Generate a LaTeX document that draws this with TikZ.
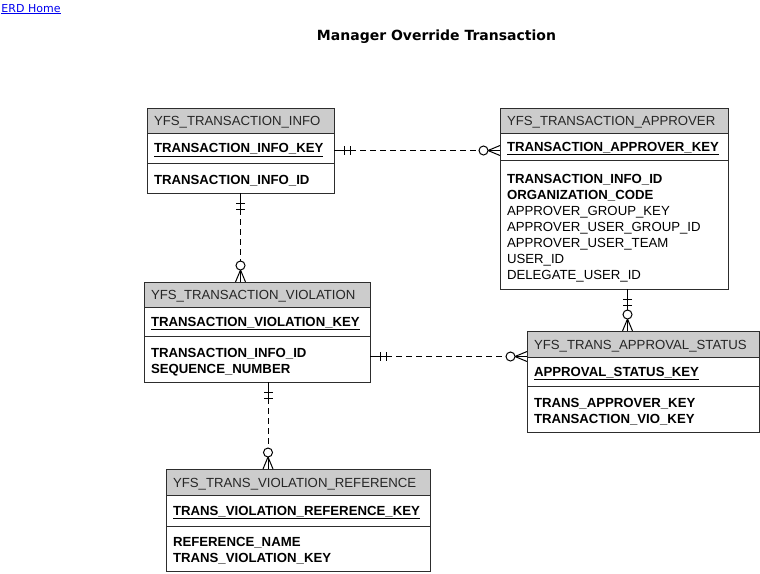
\documentclass[tikz,border=0pt]{standalone}
\usepackage{fontspec}
\setmainfont{Liberation Sans}
\newfontfamily\pagefont{DejaVu Sans}
\usetikzlibrary{positioning,calc}

\definecolor{hdrgray}{RGB}{204,204,204}
\definecolor{boxline}{RGB}{45,45,45}
\definecolor{linkblue}{RGB}{0,0,238}

\newcommand\entfont{\fontsize{13.2}{16}\selectfont}

% relationship: one end #1 (two bars), many end #2 (circle and crow's foot)
\newcommand\erlink[2]{%
  \draw (#1) -- ($(#1)!16pt!(#2)$);
  \foreach \off in {10,16}
    \draw ($(#1)!\off pt!(#2)!4.5pt!90:(#2)$) -- ($(#1)!\off pt!(#2)!4.5pt!-90:(#2)$);
  \draw[rel] ($(#1)!16pt!(#2)$) -- ($(#2)!21pt!(#1)$);
  \draw (#2) -- ($(#2)!12pt!(#1)$);
  \draw ($(#2)!5pt!90:(#1)$) -- ($(#2)!12pt!(#1)$) -- ($(#2)!5pt!-90:(#1)$);
  \draw[fill=white] ($(#2)!16.5pt!(#1)$) circle[radius=4.5pt];
}

\tikzset{
  hdr/.style={draw=boxline, line width=1pt, fill=hdrgray, anchor=north west,
    outer sep=0pt, inner xsep=7pt, inner ysep=0pt, align=left, font=\entfont,
    text height=13.5pt, text=black!85},
  pkrow/.style={draw=boxline, line width=1pt, fill=white, outer sep=0pt,
    inner xsep=7pt, inner ysep=0pt, align=left, font=\entfont\bfseries,
    text height=13.5pt},
  attrow/.style={draw=boxline, line width=1pt, fill=white, outer sep=0pt,
    inner xsep=7pt, inner ysep=0pt, align=left, font=\entfont,
    text height=14pt},
  rel/.style={dash pattern=on 6pt off 4pt}
}

\begin{document}
\begin{tikzpicture}[x=1pt, y=-1pt, line width=1pt]
  \useasboundingbox (0,0) rectangle (760,573);

  \node[anchor=base west, font=\pagefont\fontsize{11}{13}\selectfont, text=linkblue, inner sep=0pt]
    (home) at (1,12) {\underline{ERD Home}};
  \node[anchor=base, font=\pagefont\bfseries\fontsize{14}{17}\selectfont, inner sep=0pt]
    (title) at (436.5,40) {Manager Override Transaction};

  % YFS_TRANSACTION_INFO
  \begin{scope}[text width=173pt]
    \node[hdr, minimum height=25pt] (infoh) at (147,108) {YFS\_TRANSACTION\_INFO};
    \node[pkrow, minimum height=30pt, below=0pt of infoh] (infok) {\underline{TRANSACTION\_INFO\_KEY}};
    \node[attrow, minimum height=30pt, below=0pt of infok] (infoa) {\bfseries TRANSACTION\_INFO\_ID};
  \end{scope}

  % YFS_TRANSACTION_APPROVER
  \begin{scope}[text width=214pt]
    \node[hdr, minimum height=25pt] (apprh) at (500,108) {YFS\_TRANSACTION\_APPROVER};
    \node[pkrow, minimum height=27pt, below=0pt of apprh] (apprk) {\underline{TRANSACTION\_APPROVER\_KEY}};
    \node[attrow, minimum height=129pt, text height=17.5pt, below=0pt of apprk] (appra)
      {\textbf{TRANSACTION\_INFO\_ID}\\ \textbf{ORGANIZATION\_CODE}\\ APPROVER\_GROUP\_KEY\\
       APPROVER\_USER\_GROUP\_ID\\ APPROVER\_USER\_TEAM\\ USER\_ID\\ DELEGATE\_USER\_ID};
  \end{scope}

  % YFS_TRANSACTION_VIOLATION
  \begin{scope}[text width=212pt]
    \node[hdr, minimum height=25pt] (vioh) at (144,282) {YFS\_TRANSACTION\_VIOLATION};
    \node[pkrow, minimum height=29pt, below=0pt of vioh] (viok) {\underline{TRANSACTION\_VIOLATION\_KEY}};
    \node[attrow, minimum height=46pt, text height=15pt, below=0pt of viok] (vioa)
      {\bfseries TRANSACTION\_INFO\_ID\\ SEQUENCE\_NUMBER};
  \end{scope}

  % YFS_TRANS_APPROVAL_STATUS
  \begin{scope}[text width=218pt]
    \node[hdr, minimum height=26pt] (stath) at (527,331) {YFS\_TRANS\_APPROVAL\_STATUS};
    \node[pkrow, minimum height=29pt, below=0pt of stath] (statk) {\underline{APPROVAL\_STATUS\_KEY}};
    \node[attrow, minimum height=46pt, below=0pt of statk] (stata)
      {\bfseries TRANS\_APPROVER\_KEY\\ TRANSACTION\_VIO\_KEY};
  \end{scope}

  % YFS_TRANS_VIOLATION_REFERENCE
  \begin{scope}[text width=250pt]
    \node[hdr, minimum height=26pt] (refh) at (166,469) {YFS\_TRANS\_VIOLATION\_REFERENCE};
    \node[pkrow, minimum height=31pt, below=0pt of refh] (refk) {\underline{TRANS\_VIOLATION\_REFERENCE\_KEY}};
    \node[attrow, minimum height=45pt, below=0pt of refk] (refa)
      {\bfseries REFERENCE\_NAME\\ TRANS\_VIOLATION\_KEY};
  \end{scope}

  % connector ends
  \coordinate (r1a) at ($(infoh.north east)!0.5!(infoa.south east)$);
  \coordinate (r1b) at (apprh.west |- r1a);
  \coordinate (r2a) at (infoa.south);
  \coordinate (r2b) at (r2a |- vioh.north);
  \coordinate (m3) at ($(stath.north)!0.5!(vioa.south)$);
  \coordinate (r3a) at (vioa.east |- m3);
  \coordinate (r3b) at (stath.west |- m3);
  \coordinate (m4) at ($(stath.west)!0.5!(appra.east)$);
  \coordinate (r4a) at (m4 |- appra.south);
  \coordinate (r4b) at (m4 |- stath.north);
  \coordinate (m5) at ($(refh.west)!0.5!(vioa.east)$);
  \coordinate (r5a) at (m5 |- vioa.south);
  \coordinate (r5b) at (m5 |- refh.north);

  \erlink{r1a}{r1b}
  \erlink{r2a}{r2b}
  \erlink{r3a}{r3b}
  \erlink{r4a}{r4b}
  \erlink{r5a}{r5b}
\end{tikzpicture}
\end{document}
